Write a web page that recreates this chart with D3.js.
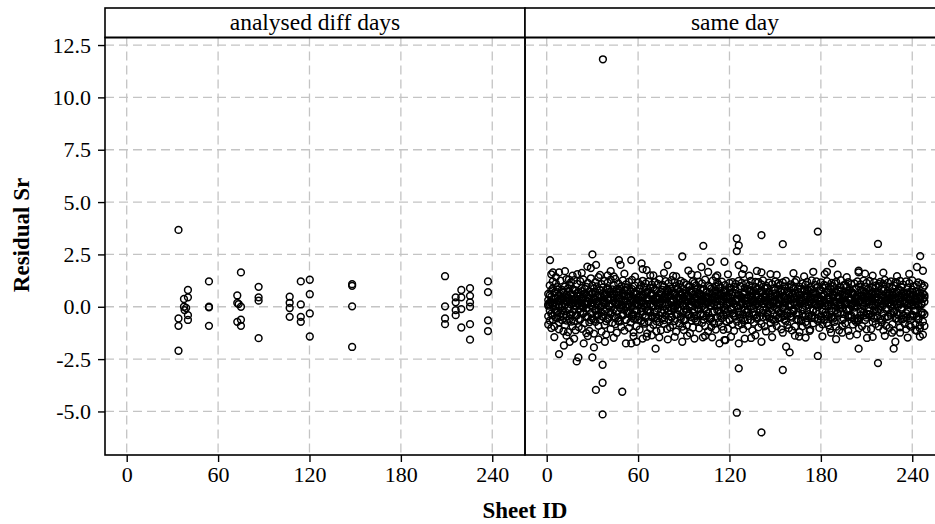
<!DOCTYPE html>
<html><head><meta charset="utf-8">
<script src="https://cdn.jsdelivr.net/npm/d3@7"></script>
<style>body{margin:0;background:#fff}svg{display:block}</style>
</head><body><svg id="c" width="935" height="524"></svg>
<script>
const panels = ["analysed diff days", "same day"];
const xTicks = [0, 60, 120, 180, 240];
const yTicks = [-5, -2.5, 0, 2.5, 5, 7.5, 10, 12.5];
const xTitle = "Sheet ID";
const yTitle = "Residual Sr";

// analysed diff days: [sheet ID, residual]
const diffDays = [[34,3.67],[34,-2.1],[34,-0.56],[34,-0.91],[40.2,0.8],[40.2,0.45],[37.6,0.37],[37.6,0.0],[38,-0.16],[39,-0.06],[40.2,-0.4],[40.2,-0.63],
[54,1.21],[54,-0.03],[54,0.0],[54,-0.91],[75,1.64],[72.6,0.54],[72.6,0.18],[73.5,0.13],[75,0.0],[75,-0.62],[72.6,-0.72],[75,-0.91],
[86.6,0.95],[86.6,0.45],[86.6,0.29],[86.6,-1.5],[107,0.48],[107,0.19],[107,-0.06],[107,-0.48],[114.3,1.21],[114.3,0.11],[114.3,-0.48],[114.3,-0.72],
[120.2,1.29],[120.2,0.6],[120.2,-0.32],[120.2,-1.42],[148,1.08],[148,1.0],[148,0.02],[148,-1.92],[209,1.46],[209,0.02],[209,-0.56],[209,-0.83],
[216,0.45],[216,0.21],[216,-0.16],[216,-0.4],[219.7,0.8],[219.7,0.45],[219.7,-0.11],[219.7,-0.99],[225.4,0.89],[225.4,0.52],[225.4,0.21],[225.4,0.0],
[225.4,-0.83],[225.4,-1.57],[237.2,1.21],[237.2,0.7],[237.2,-0.65],[237.2,-1.16]];

// same day: rows of [sheet ID, residuals...]
const sameDayRows = [
[1,0.32,-0.85,0.61,0.05],[2,-0.18,1.02,0.12,-0.66],[3,0.48,-1.02,0.22],[4,0.88,-0.41,0.15,1.21],[5,-0.12,0.42,-0.95],[6,0.71,0.03,-0.52,1.12],
[7,0.27,-0.28,0.94],[8,-0.74,0.56,0.09,-1.08],[9,1.25,0.38,-0.31],[10,0.02,0.81,-0.63,0.44],[11,-1.17,0.19,0.67],[12,0.96,-0.22,0.31,-0.88],
[13,0.58,1.32,-0.45],[14,-0.07,0.73,-1.21,0.25],[15,0.41,-0.58,1.05],[16,1.18,0.11,-0.36,0.62],[17,-0.93,0.34,0.84],[18,0.21,-0.69,1.27,-0.14],
[19,0.77,0.05,-1.12],[20,-0.41,0.52,1.09,0.16],[21,0.36,-0.97,0.68],[22,1.22,-0.25,0.07,-0.61],[23,0.89,0.29,-1.05],[24,-0.33,1.31,0.46,0.01],
[25,0.63,-0.78,0.18],[26,-1.26,0.95,0.24,0.57],[27,0.12,-0.47,1.14],[28,0.74,-1.15,0.39,-0.09],[29,1.36,0.08,-0.64],[30,-0.55,0.66,0.21,1.02],
[31,0.43,-1.28,0.87],[32,-0.19,1.17,0.33,-0.72],[33,0.97,-0.38,0.14],[34,0.26,1.41,-0.91,-0.16],[35,-0.62,0.55,0.79],[36,1.08,-0.27,0.04,-1.19],
[37,0.31,0.92,-0.48],[38,-0.86,0.17,1.23,0.49],[39,0.58,-0.11,-1.33],[40,1.15,0.37,-0.59,0.82],[41,-0.24,0.71,0.02],[42,0.45,-1.06,1.29,-0.35],
[43,0.83,0.14,-0.77],[44,-0.46,1.04,0.28,0.61],[45,0.19,-0.83,1.33],[46,0.67,-0.19,-1.24,0.09],[47,1.11,0.41,-0.53],[48,-0.71,0.86,0.23,-0.04],
[49,0.35,-0.96,0.98],[50,1.26,0.06,-0.42,0.54],[51,-0.15,0.78,-1.14],[52,0.52,-0.63,0.27,1.07],[53,0.93,-0.31,0.11],[54,-1.01,0.47,1.19,-0.21],
[55,0.29,-0.74,0.72],[56,0.84,0.03,-0.45,1.28],[57,-0.37,0.61,-1.22],[58,0.16,1.01,-0.58,0.39],[59,0.74,-0.14,-0.93],[60,-0.61,0.33,1.16,0.08],
[61,0.49,-1.09,0.85],[62,1.03,-0.23,0.19,-0.67],[63,0.22,1.24,-0.39],[64,-0.81,0.58,0.01,0.91],[65,0.64,-0.52,1.12],[66,0.11,-1.27,0.45,-0.18],
[67,1.21,0.31,-0.71],[68,-0.28,0.89,0.13,-1.02],[69,0.56,-0.44,1.06],[70,0.92,0.07,-0.86,0.37],[71,-0.49,1.18,0.24],[72,0.38,-0.69,0.76,-1.17],
[73,1.09,-0.09,0.44],[74,-0.73,0.63,1.31,0.17],[75,0.27,-1.12,-0.26],[76,0.81,0.35,-0.55,1.04],[77,-0.17,0.96,-0.82],[78,0.59,0.04,1.22,-0.41],
[79,-1.06,0.42,0.69],[80,0.13,-0.61,1.13,0.51],[81,0.87,-0.33,-0.98],[82,-0.52,0.75,0.22,1.27],[83,0.34,-0.88,0.06],[84,1.17,-0.12,0.58,-0.68],
[85,0.05,0.99,-1.19],[86,-0.36,0.46,0.83,-0.07],[87,0.71,-0.79,1.08],[88,1.24,0.18,-0.47,0.62],[89,-0.95,0.55,0.09],[90,0.41,-0.23,1.15,-1.11],
[91,0.77,0.32,-0.64],[92,-0.12,1.06,-0.89,0.26],[93,0.53,-0.41,0.94],[94,0.98,0.12,-1.26,0.47],[95,-0.66,0.73,0.03],[96,0.24,-0.99,1.21,-0.29],
[97,1.13,0.39,-0.56],[98,-0.43,0.84,0.15,1.02],[99,0.62,-0.72,-0.08],[100,0.09,1.19,-1.03,0.55],[101,0.86,-0.35,0.28],[102,-0.77,0.51,1.12,0.02],
[103,0.31,-0.61,0.79],[104,1.29,0.14,-0.92,0.43],[105,-0.21,0.69,-0.44],[106,0.47,-1.16,1.01,0.23],[107,0.95,0.06,-0.58],[108,-0.58,0.87,0.35,-0.97],
[109,0.18,-0.27,1.25],[110,0.73,0.44,-0.81,0.11],[111,-1.09,0.61,0.97],[112,0.39,-0.53,0.08,1.16],[113,1.05,-0.18,-0.74],[114,-0.31,0.92,0.27,0.58],
[115,0.66,-0.95,1.2],[116,0.14,0.49,-0.38,-1.1],[117,0.83,-0.06,1.03],[118,-0.69,0.37,0.74,0.05],[119,0.52,-1.05,-0.19],[120,1.14,0.22,-0.62,0.91],
[121,-0.14,0.81,0.4],[122,0.28,-0.84,1.18,-0.32],[123,0.96,0.13,-1.15],[124,-0.47,0.64,0.29,1.09],[125,0.36,-0.71,0.01],[126,1.23,-0.25,0.55,-0.89],
[127,0.07,0.98,-0.51],[128,-0.83,0.42,1.14,0.19],[129,0.61,-0.36,-1.07],[130,0.89,0.27,-0.66,0.75],[131,-0.26,1.11,0.1],[132,0.44,-0.91,0.86,-0.13],
[133,1.02,0.17,-0.43],[134,-0.62,0.79,0.31,1.24],[135,0.23,-1.13,0.65],[136,0.78,-0.08,0.21,-0.76],[137,-0.39,0.95,1.19],[138,0.55,-0.57,0.12,0.83],
[139,1.18,0.04,-0.98],[140,-0.11,0.71,0.36,-0.45],[141,0.68,-0.82,1.07],[142,0.15,1.26,-0.29,0.47],[143,-0.93,0.32,0.88],[144,0.46,-0.46,-1.18,1.01],
[145,0.91,0.19,-0.33],[146,-0.54,0.66,1.15,0.07],[147,0.32,-0.77,0.57],[148,1.08,-0.15,0.24,-1.04],[149,0.02,0.85,-0.61],[150,-0.71,0.48,1.21,0.29],
[151,0.57,-0.42,-0.92],[152,0.84,0.11,-0.21,1.13],[153,-0.29,1.03,0.38],[154,0.41,-1.08,0.71,-0.52],[155,1.16,0.26,-0.11],[156,-0.44,0.76,0.05,0.97],
[157,0.19,-0.67,1.24],[158,0.74,0.34,-0.86,-0.24],[159,-1.02,0.58,0.92],[160,0.37,-0.31,0.14,1.07],[161,0.99,-0.52,-1.13],[162,-0.18,0.89,0.43,0.21],
[163,0.63,-0.94,1.17],[164,1.27,0.08,-0.38,0.52],[165,-0.61,0.71,-0.05],[166,0.29,-1.21,0.96,0.33],[167,0.87,0.16,-0.64],[168,-0.34,1.12,0.27,-0.93],
[169,0.51,-0.48,0.81],[170,1.06,0.03,-0.73,0.44],[171,-0.85,0.62,1.19],[172,0.22,-0.35,0.09,0.77],[173,0.94,0.45,-1.09],[174,-0.42,0.83,0.18,1.26],
[175,0.65,-0.79,-0.12],[176,0.12,1.05,-0.55,0.36],[177,1.21,-0.21,0.61],[178,-0.67,0.39,0.96,-0.02],[179,0.43,-1.01,0.25],[180,0.79,0.14,-0.47,1.16],
[181,-0.23,0.93,-0.84],[182,0.58,-0.62,0.32,1.04],[183,1.01,0.05,-0.27],[184,-0.78,0.72,1.22,0.41],[185,0.34,-0.89,0.13],[186,0.88,-0.37,0.67,-1.06],
[187,0.06,1.14,-0.49],[188,-0.57,0.53,0.21,0.98],[189,0.71,-0.72,1.11],[190,1.19,0.24,-0.16,-0.95],[191,-0.32,0.82,0.46],[192,0.48,-1.12,0.07,0.74],
[193,0.92,-0.26,1.27],[194,-0.91,0.36,0.58,-0.08],[195,0.26,-0.57,1.03],[196,1.04,0.17,-0.79,0.49],[197,-0.13,0.97,0.22],[198,0.62,-0.41,-1.15,1.18],
[199,0.81,0.33,-0.09],[200,-0.49,0.69,1.08,0.14],[201,0.17,-0.85,0.56],[202,1.12,-0.04,0.28,-0.63],[203,-0.72,0.88,0.39],[204,0.39,-0.66,1.21,0.03],
[205,0.96,0.21,-1.03],[206,-0.24,1.07,0.51,-0.41],[207,0.54,-0.93,0.77],[208,1.25,0.09,-0.28,0.62],[209,-0.63,0.47,0.95],[210,0.21,-0.52,1.14,-1.08],
[211,0.86,0.31,-0.35],[212,-0.37,0.79,0.12,1.23],[213,0.67,-1.06,0.43],[214,0.04,0.92,-0.71,0.26],[215,1.17,-0.18,0.58],[216,-0.82,0.64,1.01,-0.12],
[217,0.45,-0.44,0.19],[218,0.98,0.36,-0.94,1.09],[219,-0.15,1.19,-0.57],[220,0.59,-0.75,0.29,0.83],[221,1.08,0.07,-1.12],[222,-0.53,0.86,0.41,1.28],
[223,0.31,-0.91,-0.06],[224,0.76,0.18,1.15,-0.46],[225,-1.01,0.54,0.95],[226,0.42,-0.29,0.11,1.21],[227,0.89,0.37,-0.83],[228,-0.27,1.02,0.23,-1.14],
[229,0.64,-0.56,1.17],[230,1.13,0.12,-0.34,0.71],[231,-0.68,0.77,0.04],[232,0.25,-0.98,1.24,0.47],[233,0.93,-0.13,-0.61],[234,-0.41,0.68,0.32,1.06],
[235,0.56,-0.82,0.15],[236,1.21,0.43,-0.51,-1.07],[237,0.08,0.91,-0.22],[238,-0.87,0.35,1.13,0.58],[239,0.47,-0.64,-0.95],[240,0.82,0.21,1.26,-0.38],
[241,-0.19,0.99,0.06],[242,0.35,-1.11,0.73,-0.84],[243,1.04,0.27,-0.47],[244,-0.58,0.62,1.16,0.13],[245,0.69,-0.89,-1.03],[246,0.17,1.09,-0.26,0.51],
[247,0.92,-0.71,0.38],[248,-0.36,0.55,-0.92,1.01]];

// same day: denser core of the band [sheet ID, residuals...]
const sameDayCore = [
[1,0.12,-0.45],[2,0.55,0.21],[3,-0.33,0.78],[4,0.04,-0.62],[5,0.67,0.18],[6,-0.21,0.41],[7,0.83,-0.55],[8,0.26,0.02],[9,-0.48,0.61],[10,0.35,-0.17],
[11,0.72,-0.38],[12,0.09,0.49],[13,-0.66,0.23],[14,0.44,0.87],[15,-0.12,0.31],[16,0.58,-0.71],[17,0.17,-0.26],[18,0.79,0.36],[19,-0.41,0.06],[20,0.29,0.66],
[21,-0.58,0.14],[22,0.51,-0.09],[23,0.03,0.74],[24,-0.29,0.39],[25,0.86,0.11],[26,-0.07,-0.49],[27,0.47,0.25],[28,-0.74,0.57],[29,0.19,-0.32],[30,0.62,0.01],
[31,0.38,-0.61],[32,-0.15,0.72],[33,0.53,0.27],[34,0.08,-0.39],[35,0.81,-0.04],[36,-0.44,0.48],[37,0.23,0.65],[38,0.57,-0.22],[39,-0.69,0.15],[40,0.32,0.89],
[41,0.06,-0.53],[42,0.71,0.34],[43,-0.27,0.59],[44,0.45,-0.13],[45,-0.52,0.22],[46,0.84,0.43],[47,0.14,-0.68],[48,0.39,0.76],[49,-0.11,0.09],[50,0.63,-0.35],
[51,0.28,0.52],[52,-0.63,-0.02],[53,0.49,0.83],[54,0.11,-0.29],[55,0.76,0.19],[56,-0.36,0.37],[57,0.24,-0.57],[58,0.68,0.05],[59,-0.19,0.61],[60,0.42,-0.46],
[61,0.87,0.28],[62,-0.05,-0.21],[63,0.56,0.44],[64,0.18,-0.73],[65,-0.43,0.12],[66,0.73,0.69],[67,0.31,-0.14],[68,-0.25,0.54],[69,0.64,-0.51],[70,0.07,0.32],
[71,0.82,-0.27],[72,-0.56,0.46],[73,0.35,0.08],[74,0.13,-0.42],[75,0.59,0.71],[76,-0.31,0.17],[77,0.48,-0.64],[78,0.22,0.38],[79,-0.09,0.81],[80,0.74,-0.19],
[81,0.27,0.55],[82,-0.47,-0.06],[83,0.61,0.24],[84,0.03,0.67],[85,0.41,-0.37],[86,0.88,0.13],[87,-0.18,0.42],[88,0.36,-0.58],[89,0.69,0.29],[90,-0.61,0.07],
[91,0.16,0.63],[92,0.52,-0.24],[93,-0.34,0.35],[94,0.78,0.01],[95,0.25,-0.49],[96,0.57,0.77],[97,-0.13,0.21],[98,0.43,-0.66],[99,0.09,0.47],[100,0.66,-0.11],
[101,-0.39,0.58],[102,0.31,0.16],[103,0.85,-0.43],[104,-0.06,0.26],[105,0.47,0.72],[106,0.19,-0.31],[107,-0.53,0.39],[108,0.62,0.04],[109,0.34,-0.72],[110,-0.22,0.51],
[111,0.77,0.23],[112,0.05,-0.18],[113,0.54,0.64],[114,-0.45,0.09],[115,0.28,-0.55],[116,0.71,0.36],[117,-0.16,0.78],[118,0.46,-0.26],[119,0.12,0.44],[120,-0.64,0.18],
[121,0.59,-0.07],[122,0.21,0.69],[123,-0.32,-0.44],[124,0.83,0.31],[125,0.37,0.06],[126,-0.08,0.57],[127,0.52,-0.36],[128,0.14,0.25],[129,-0.57,0.62],[130,0.68,-0.15],
[131,0.29,0.41],[132,-0.24,-0.63],[133,0.75,0.19],[134,0.02,0.53],[135,0.44,-0.28],[136,-0.38,0.33],[137,0.61,0.07],[138,0.18,-0.51],[139,0.86,0.46],[140,-0.12,0.22],
[141,0.39,0.74],[142,-0.49,-0.16],[143,0.55,0.28],[144,0.23,0.61],[145,-0.27,-0.39],[146,0.72,0.12],[147,0.08,0.49],[148,0.47,-0.59],[149,-0.35,0.26],[150,0.64,0.81],
[151,0.17,-0.08],[152,-0.54,0.37],[153,0.33,0.58],[154,0.79,-0.33],[155,-0.03,0.15],[156,0.49,-0.62],[157,0.26,0.42],[158,-0.42,0.71],[159,0.67,0.03],[160,0.11,-0.46],
[161,0.58,0.34],[162,-0.23,-0.12],[163,0.41,0.66],[164,-0.61,0.21],[165,0.84,-0.27],[166,0.15,0.55],[167,0.36,-0.69],[168,-0.14,0.31],[169,0.73,0.17],[170,0.04,-0.38],
[171,0.52,0.79],[172,-0.46,0.08],[173,0.27,0.47],[174,0.65,-0.54],[175,-0.19,0.24],[176,0.43,0.63],[177,0.09,-0.21],[178,-0.58,0.38],[179,0.76,0.14],[180,0.32,-0.61],
[181,-0.11,0.52],[182,0.57,0.27],[183,0.19,-0.43],[184,-0.37,0.69],[185,0.81,0.02],[186,0.24,0.36],[187,-0.52,-0.17],[188,0.45,0.58],[189,0.07,-0.52],[190,0.69,0.23],
[191,-0.29,0.45],[192,0.38,-0.09],[193,0.13,0.73],[194,-0.65,0.29],[195,0.56,-0.34],[196,0.22,0.11],[197,-0.17,0.62],[198,0.74,-0.48],[199,0.35,0.39],[200,-0.41,0.05],
[201,0.61,0.67],[202,0.06,-0.27],[203,0.48,0.19],[204,-0.55,0.54],[205,0.28,-0.63],[206,0.82,0.31],[207,-0.09,0.14],[208,0.39,0.75],[209,0.16,-0.41],[210,-0.33,0.28],
[211,0.63,0.49],[212,0.25,-0.18],[213,-0.48,0.61],[214,0.71,0.07],[215,0.11,-0.56],[216,0.46,0.35],[217,-0.21,0.72],[218,0.58,-0.12],[219,0.03,0.26],[220,-0.62,0.43],
[221,0.77,-0.31],[222,0.31,0.16],[223,-0.14,0.64],[224,0.53,-0.47],[225,0.18,0.38],[226,-0.39,0.02],[227,0.66,0.57],[228,0.08,-0.22],[229,0.44,0.29],[230,-0.56,0.68],
[231,0.35,-0.39],[232,0.79,0.13],[233,-0.04,0.46],[234,0.51,-0.58],[235,0.21,0.24],[236,-0.31,0.61],[237,0.68,-0.14],[238,0.12,0.33],[239,-0.47,0.71],[240,0.57,0.09],
[241,0.27,-0.45],[242,-0.18,0.39],[243,0.72,0.18],[244,0.05,-0.61],[245,0.41,0.52],[246,-0.36,0.11],[247,0.63,-0.28],[248,0.24,0.44]];

// same day: points outside the main band [sheet ID, residual]
const sameDayOutliers = [[36.9,11.82],
[2.2,2.23],[4.1,1.64],[8.1,1.64],[30,2.5],[32.4,2.0],[26.7,1.92],[47.4,2.23],[48.5,2.0],[55.5,2.23],[62.3,2.07],[65.6,1.75],[79.5,1.99],
[89,2.4],[102.8,2.91],[101.6,1.9],[107.5,2.15],[116.7,2.15],[14.6,1.3],[20.1,1.56],[40,1.5],[44,1.45],[70,1.5],[85,1.45],[95,1.55],[112,1.5],
[8.1,-2.26],[11.3,-1.85],[15.1,-1.67],[19.7,-2.61],[20.8,-2.42],[30,-2.42],[31,-1.94],[36.7,-2.77],[32.3,-3.97],[36.7,-3.63],[36.7,-5.14],
[49.6,-4.06],[38.2,-1.67],[24.3,-1.75],[52,-1.75],[55.5,-1.75],[59,-1.67],[71.5,-2.0],[65.6,-1.43],[73.9,-1.46],[79.5,-1.56],[89,-1.67],
[92.2,-1.38],[102.5,-1.46],[108.6,-1.46],[113.4,-1.75],[116.7,-1.59],
[124.8,3.26],[126.1,2.93],[124.8,2.66],[126.1,1.99],[129.4,1.81],[128.3,1.56],[141,3.42],[155,2.99],[178,3.59],[217.5,3.0],[245.2,2.42],
[243.1,1.9],[182.5,1.56],[184,1.67],[187.4,2.07],[204.8,1.72],[204.8,1.64],[141,1.64],[146.9,1.56],
[126.1,-1.75],[126.1,-2.94],[124.8,-5.06],[141,-6.0],[155,-3.02],[157.2,-1.91],[159.5,-2.18],[178,-2.35],[204.8,-2.0],[217.5,-2.69],
[227.8,-2.0],[228.9,-1.67],[245,-1.42],[243,-1.15],[117.4,-1.59],[134.2,-1.49],[141,-1.67],[155,-1.24],[165.7,-1.42],[172.7,-1.15],
[186.7,-1.24],[194,-1.24],[203.7,-1.32],[210.3,-1.49],[226.7,-1.24],[232,-1.24],
[3,1.55],[6,1.42],[12,1.7],[17,1.48],[23,1.62],[29,1.85],[35,1.52],[42,1.7],[51,1.58],[58,1.44],[63,1.8],[68,1.5],[77,1.62],[83,1.47],
[93,1.73],[99,1.51],[106,1.66],[111,1.42],[119,1.55],[133,1.48],[138,1.71],[151,1.52],[162,1.6],[169,1.45],[175,1.67],[191,1.53],[197,1.41],
[209,1.58],[214,1.49],[221,1.63],[230,1.46],[238,1.57],[247,1.72],
[5,-1.45],[13,-1.38],[18,-1.52],[27,-1.4],[34,-1.56],[44,-1.48],[57,-1.41],[63,-1.52],[69,-1.36],[84,-1.44],[97,-1.52],[104,-1.39],[121,-1.43],
[130,-1.52],[137,-1.36],[148,-1.45],[163,-1.38],[170,-1.47],[181,-1.41],[190,-1.55],[199,-1.38],[214,-1.44],[222,-1.39],[237,-1.47],[247,-1.33]];

const rowsToPoints = rows => rows.flatMap(r => r.slice(1).map(v => [r[0], v]));
const sameDay = rowsToPoints(sameDayRows).concat(rowsToPoints(sameDayCore), sameDayOutliers);
const panelData = [diffDays, sameDay];

const svg = d3.select("#c");
const font = "'Liberation Serif', 'Times New Roman', serif";
const L = 105, T = 37.5, B = 455, PW = 420, stripTop = 8;
const x = d3.scaleLinear().domain([-14.25, 261.5]).range([0, PW]);
const y = d3.scaleLinear().domain([-7.08, 12.86]).range([B, T]);

panelData.forEach((data, i) => {
  const g = svg.append("g").attr("transform", `translate(${L + i * PW},0)`);
  g.selectAll("line.hg").data(yTicks).join("line")
    .attr("x1", 0).attr("x2", PW).attr("y1", d => y(d)).attr("y2", d => y(d))
    .attr("stroke", "#c4c4c4").attr("stroke-width", 1.3).attr("stroke-dasharray", "9,5");
  g.selectAll("line.vg").data(xTicks).join("line")
    .attr("y1", T).attr("y2", B).attr("x1", d => x(d)).attr("x2", d => x(d))
    .attr("stroke", "#c4c4c4").attr("stroke-width", 1.3).attr("stroke-dasharray", "9,5");
  g.selectAll("circle").data(data).join("circle")
    .attr("cx", d => x(d[0])).attr("cy", d => y(d[1])).attr("r", 3.4)
    .attr("fill", "none").attr("stroke", "#000").attr("stroke-width", 1.5);
  g.append("rect").attr("x", 0).attr("y", stripTop).attr("width", PW).attr("height", T - stripTop)
    .attr("fill", "#fff").attr("stroke", "#000").attr("stroke-width", 1.6);
  g.append("text").attr("x", PW / 2).attr("y", 30)
    .attr("text-anchor", "middle").attr("font-family", font).attr("font-size", 23.5)
    .text(panels[i]);
  g.append("rect").attr("x", 0).attr("y", T).attr("width", PW).attr("height", B - T)
    .attr("fill", "none").attr("stroke", "#000").attr("stroke-width", 1.6);
  const xa = g.append("g").attr("transform", `translate(0,${B})`)
    .call(d3.axisBottom(x).tickValues(xTicks).tickSize(7).tickPadding(4).tickFormat(d3.format("d")));
  xa.select(".domain").remove();
  xa.selectAll("line").attr("stroke", "#000").attr("stroke-width", 1.4);
  xa.selectAll("text").attr("font-family", font).attr("font-size", 22).attr("fill", "#000");
});

const ya = svg.append("g").attr("transform", `translate(${L},0)`)
  .call(d3.axisLeft(y).tickValues(yTicks).tickSize(7).tickPadding(7).tickFormat(d => d.toFixed(1)));
ya.select(".domain").remove();
ya.selectAll("line").attr("stroke", "#000").attr("stroke-width", 1.4);
ya.selectAll("text").attr("font-family", font).attr("font-size", 22).attr("fill", "#000");

svg.append("text").attr("x", 525).attr("y", 518).attr("text-anchor", "middle")
  .attr("font-family", font).attr("font-size", 23).attr("font-weight", "bold").text(xTitle);
svg.append("text").attr("transform", "translate(29,235) rotate(-90)").attr("text-anchor", "middle")
  .attr("font-family", font).attr("font-size", 23).attr("font-weight", "bold").text(yTitle);
</script></body></html>
